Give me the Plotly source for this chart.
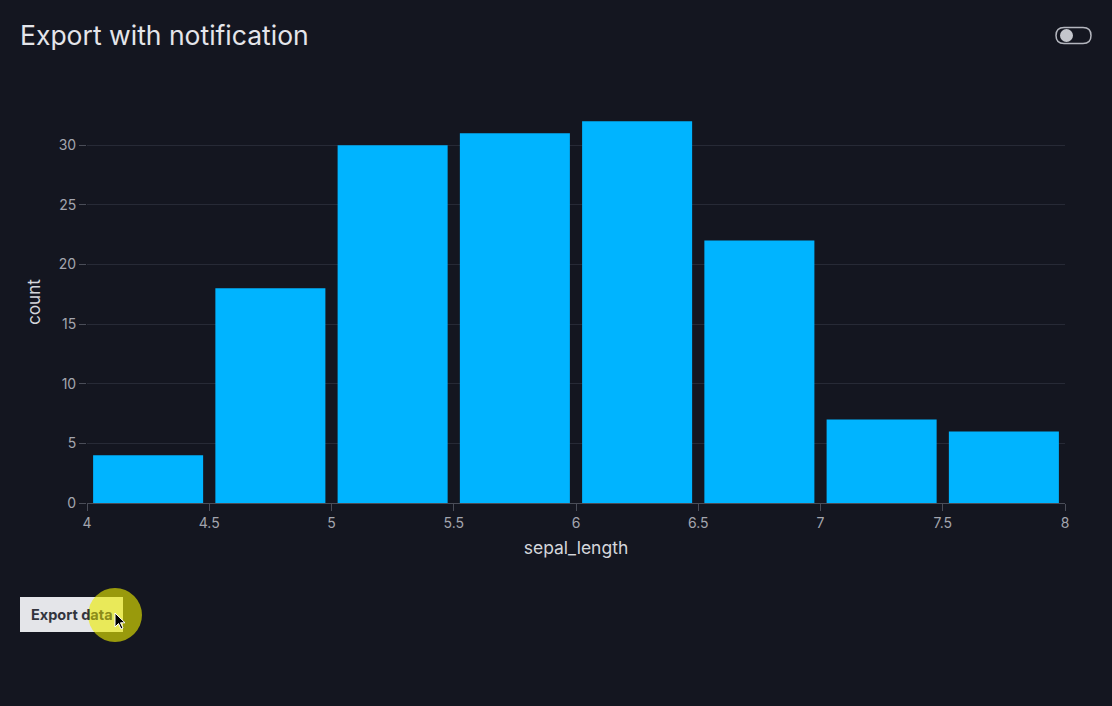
import plotly.graph_objects as go

bin_centers = [4.25, 4.75, 5.25, 5.75, 6.25, 6.75, 7.25, 7.75]
counts = [4, 18, 30, 31, 32, 22, 7, 6]
x_ticks = [4, 4.5, 5, 5.5, 6, 6.5, 7, 7.5, 8]
x_tick_labels = ["4", "4.5", "5", "5.5", "6", "6.5", "7", "7.5", "8"]
y_ticks = [0, 5, 10, 15, 20, 25, 30]

W, H = 1112, 706
ML, MR, MT, MB = 87, 47, 101, 203
PW, PH = W - ML - MR, H - MT - MB

def px(x):
    return (x - ML) / PW

def py(y):
    return (H - MB - y) / PH

BG = "#141620"

fig = go.Figure(go.Bar(
    x=bin_centers, y=counts, marker=dict(color="#00b4ff", line=dict(width=0)),
    hoverinfo="skip",
))

shapes = []
# toggle switch
x0, x1, y0, y1 = 1056, 1091, 27.5, 43.5
r = (y1 - y0) / 2
path = (f"M {px(x0 + r)},{py(y0)} L {px(x1 - r)},{py(y0)} "
        f"Q {px(x1)},{py(y0)} {px(x1)},{py(y0 + r)} "
        f"Q {px(x1)},{py(y1)} {px(x1 - r)},{py(y1)} "
        f"L {px(x0 + r)},{py(y1)} "
        f"Q {px(x0)},{py(y1)} {px(x0)},{py(y0 + r)} "
        f"Q {px(x0)},{py(y0)} {px(x0 + r)},{py(y0)} Z")
shapes.append(dict(type="path", xref="paper", yref="paper", path=path,
                   line=dict(color="#b4b6be", width=1.5), fillcolor="rgba(0,0,0,0)", layer="above"))
shapes.append(dict(type="circle", xref="paper", yref="paper",
                   x0=px(1060), x1=px(1073), y0=py(29), y1=py(42),
                   line=dict(width=0), fillcolor="#c4c6cc", layer="above"))
# export button
shapes.append(dict(type="rect", xref="paper", yref="paper",
                   x0=px(20), x1=px(123), y0=py(597), y1=py(632),
                   line=dict(width=0), fillcolor="#e4e5e9", layer="above"))
# cursor highlight
shapes.append(dict(type="circle", xref="paper", yref="paper",
                   x0=px(88), x1=px(142), y0=py(588), y1=py(642),
                   line=dict(width=0), fillcolor="rgba(235,235,0,0.62)", layer="above"))
# cursor arrow
cx, cy = 115, 613
pts = [(0, 0), (0, 14), (3.5, 10.5), (6, 16), (8, 15), (5.5, 9.8), (10, 9.8)]
cpath = "M " + " L ".join(f"{px(cx + a)},{py(cy + b)}" for a, b in pts) + " Z"
shapes.append(dict(type="path", xref="paper", yref="paper", path=cpath,
                   line=dict(color="#ffffff", width=1), fillcolor="#000000", layer="above"))

fig.update_layout(
    width=W, height=H,
    margin=dict(l=ML, r=MR, t=MT, b=MB),
    paper_bgcolor=BG, plot_bgcolor=BG,
    font=dict(family="Inter, Roboto, sans-serif", color="#a3a5ae", size=14),
    title=dict(text="Export with notification", x=20 / W, xanchor="left",
               y=1 - 36 / H, yanchor="middle",
               font=dict(size=26.5, color="#e4e5ea", family="Inter, Roboto, sans-serif")),
    bargap=0.1,
    showlegend=False,
    xaxis=dict(
        range=[4, 8], tickvals=x_ticks, ticktext=x_tick_labels,
        showgrid=False, zeroline=False,
        showline=True, linecolor="#4a4d58", linewidth=1,
        ticks="outside", ticklen=7, tickcolor="#4a4d58",
        tickfont=dict(size=14, color="#a3a5ae"),
        title=dict(text="sepal_length", font=dict(size=17.5, color="#d4d6dc"), standoff=11),
    ),
    yaxis=dict(
        range=[0, 33.7], tickvals=y_ticks,
        showgrid=True, gridcolor="#272a36", gridwidth=1,
        zeroline=False, showline=False,
        ticks="outside", ticklen=7, tickcolor="#4a4d58",
        tickfont=dict(size=14, color="#a3a5ae"),
        title=dict(text="count", font=dict(size=17, color="#d4d6dc"), standoff=13),
    ),
    shapes=shapes,
    annotations=[dict(
        xref="paper", yref="paper", x=px(28.5), y=py(614), xanchor="left", yanchor="middle",
        text="<b>Export d<span style='color:#8c8c18'>ata</span></b>",
        showarrow=False, font=dict(size=14.5, color="#33353e", family="Inter, Roboto, sans-serif"),
    )],
)

fig.write_html("out.html")
